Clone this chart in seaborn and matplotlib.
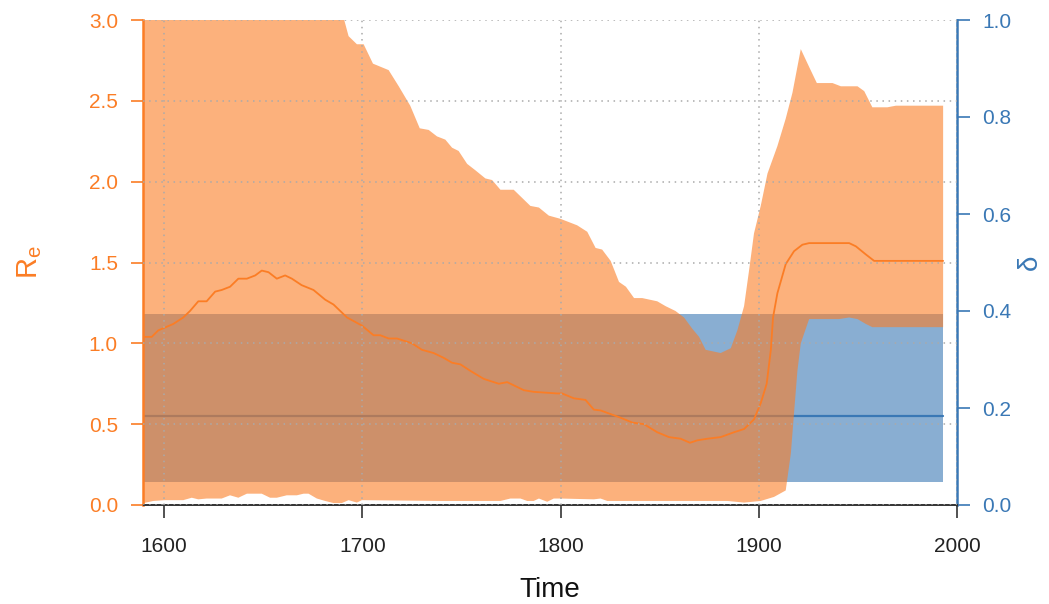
import numpy as np
import pandas as pd
import matplotlib
matplotlib.use("Agg")
import matplotlib.pyplot as plt
import seaborn as sns

# ---------------- data ----------------
re_upper_years = [1589, 1690.9, 1693.1, 1697.3, 1700.7, 1705.4, 1713.3, 1718.4, 1724.2, 1729, 1733.5,
                  1737.7, 1741.9, 1745.3, 1748.6, 1752.9, 1757.1, 1762.1, 1765.5, 1769.7, 1776.4,
                  1784.8, 1789.1, 1794.1, 1800, 1808.4, 1813.5, 1817.7, 1821, 1825.3, 1829.5, 1833,
                  1837.1, 1841.2, 1848.8, 1853, 1858, 1862.3, 1866.5, 1869.9, 1873.2, 1880.8, 1885.9,
                  1889.2, 1892.6, 1895.1, 1897.6, 1901, 1904.4, 1909.4, 1913.6, 1917, 1921.2, 1925.4,
                  1929.3, 1937.2, 1941.4, 1949.8, 1953.2, 1957.3, 1964.9, 1969.2, 1993]
re_upper = [3.0, 3.0, 2.90, 2.85, 2.85, 2.73, 2.69, 2.59, 2.47, 2.33, 2.32,
            2.28, 2.26, 2.21, 2.19, 2.11, 2.07, 2.02, 2.01, 1.95, 1.95,
            1.85, 1.84, 1.79, 1.77, 1.73, 1.69, 1.59, 1.58, 1.51, 1.38, 1.35,
            1.28, 1.28, 1.26, 1.23, 1.20, 1.16, 1.09, 1.04, 0.96, 0.94, 0.97,
            1.08, 1.23, 1.45, 1.68, 1.85, 2.05, 2.22, 2.39, 2.55, 2.82, 2.71,
            2.61, 2.61, 2.59, 2.59, 2.56, 2.46, 2.46, 2.47, 2.47]

re_lower_years = [1589, 1594.6, 1600.5, 1609.7, 1614, 1617.3, 1621.5, 1629.1, 1633.3, 1637.5, 1641.8,
                  1649.3, 1653.5, 1656.9, 1661.9, 1667, 1670.4, 1672.9, 1677.1, 1681.3, 1685.5,
                  1689.7, 1693.1, 1697.3, 1699.8, 1739.4, 1769.7, 1774.7, 1779.8, 1783.2, 1786.5,
                  1789.1, 1793.3, 1796.6, 1800, 1816.8, 1820.2, 1823.6, 1857.2, 1884.2, 1892.6,
                  1901, 1907.7, 1913.6, 1916.2, 1917.8, 1919.5, 1921.2, 1925.4, 1940.5, 1945.6,
                  1949.8, 1954, 1957.3, 1993]
re_lower = [0.01, 0.025, 0.03, 0.03, 0.045, 0.035, 0.04, 0.04, 0.06, 0.045, 0.07,
            0.07, 0.045, 0.045, 0.06, 0.06, 0.07, 0.07, 0.04, 0.025, 0.012,
            0.012, 0.03, 0.015, 0.03, 0.025, 0.025, 0.04, 0.04, 0.025, 0.025,
            0.04, 0.02, 0.04, 0.04, 0.035, 0.04, 0.025, 0.025, 0.025, 0.015,
            0.025, 0.05, 0.09, 0.32, 0.57, 0.83, 1.00, 1.15, 1.15, 1.16,
            1.15, 1.12, 1.10, 1.10]

re_median_years = [1589.5, 1593.8, 1597.1, 1604.7, 1609.7, 1613.1, 1617.3, 1621.5, 1625.8, 1629.1,
                   1633.3, 1637.5, 1641.8, 1646, 1649.3, 1652.7, 1656.9, 1661.1, 1664.5, 1669.4,
                   1675.4, 1681.3, 1685.5, 1692.3, 1699.8, 1705.7, 1709.1, 1713.3, 1717.5, 1725.1,
                   1730.1, 1736, 1741.1, 1745.3, 1749.5, 1754.5, 1761.3, 1768.9, 1773.1, 1781.5,
                   1786.5, 1798.3, 1800.8, 1806.7, 1812.6, 1816.8, 1820.2, 1830.3, 1836.2, 1842.1,
                   1848.8, 1854.7, 1860.6, 1865.3, 1869, 1874.1, 1880.8, 1887.5, 1892.6, 1897.6,
                   1901, 1904, 1906.1, 1907.2, 1909.4, 1913.6, 1917.8, 1922, 1925.4, 1945.6,
                   1949, 1954, 1958.2, 1993]
re_median = [1.04, 1.04, 1.08, 1.12, 1.16, 1.20, 1.26, 1.26, 1.32, 1.33,
             1.35, 1.40, 1.40, 1.42, 1.45, 1.44, 1.40, 1.42, 1.40, 1.36,
             1.33, 1.27, 1.24, 1.16, 1.11, 1.05, 1.05, 1.03, 1.03, 1.00,
             0.96, 0.94, 0.91, 0.88, 0.87, 0.83, 0.78, 0.75, 0.76, 0.71,
             0.70, 0.69, 0.69, 0.66, 0.65, 0.59, 0.585, 0.54, 0.51, 0.50,
             0.45, 0.42, 0.41, 0.385, 0.40, 0.41, 0.42, 0.45, 0.47, 0.53,
             0.63, 0.75, 0.96, 1.16, 1.31, 1.49, 1.57, 1.61, 1.62, 1.62,
             1.60, 1.55, 1.51, 1.51]

delta_years = [1589, 1993]
delta_lower = [0.047, 0.047]
delta_upper = [0.394, 0.394]
delta_median = [0.183, 0.183]

x_ticks = [1600, 1700, 1800, 1900, 2000]
re_ticks = [0.0, 0.5, 1.0, 1.5, 2.0, 2.5, 3.0]
delta_ticks = [0.0, 0.2, 0.4, 0.6, 0.8, 1.0]

# ---------------- style ----------------
sns.set_style("white")
plt.rcParams['font.family'] = ['Liberation Sans', 'DejaVu Sans']
plt.rcParams['mathtext.fontset'] = 'custom'
plt.rcParams['mathtext.rm'] = 'Liberation Sans'
plt.rcParams['mathtext.it'] = 'Liberation Sans'

ORANGE = '#FB7D25'
BLUE = '#3A78B5'
AXGREY = '#333333'

fig = plt.figure(figsize=(10.49, 6.04), dpi=100)
ax = fig.add_axes([143/1049, 1 - 505/604, (957-143)/1049, (505-20)/604])
ax2 = ax.twinx()
ax.set_zorder(ax2.get_zorder() + 1)
ax.patch.set_visible(False)

# delta band (right axis, drawn underneath)
ax2.fill_between(delta_years, delta_lower, delta_upper, color=BLUE, alpha=0.6, linewidth=0)
sns.lineplot(x=delta_years, y=delta_median, ax=ax2, color=BLUE, linewidth=1.6, estimator=None)

# Re band (left axis, on top)
poly_x = list(re_upper_years) + list(re_lower_years[::-1])
poly_y = list(re_upper) + list(re_lower[::-1])
ax.fill(poly_x, poly_y, color=ORANGE, alpha=0.6, linewidth=0)
sns.lineplot(x=re_median_years, y=re_median, ax=ax, color=ORANGE, linewidth=1.3, estimator=None)

# limits
ax.set_xlim(1589.4, 2000)
ax.set_ylim(0, 3)
ax2.set_ylim(0, 1)

# grid on top
ax.set_axisbelow(False)
ax.grid(True, which='major', color='#AAAAAA', linestyle=(0, (1, 3)), linewidth=1.1)

# ticks
ax.set_xticks(x_ticks)
ax.set_xticklabels([str(t) for t in x_ticks])
ax.set_yticks(re_ticks)
ax.set_yticklabels([f"{t:.1f}" for t in re_ticks])
ax2.set_yticks(delta_ticks)
ax2.set_yticklabels([f"{t:.1f}" for t in delta_ticks])

ax.tick_params(axis='x', direction='out', length=9, width=1.2, color=AXGREY,
               labelcolor='#222222', labelsize=15, pad=14, bottom=True)
ax.tick_params(axis='y', direction='out', length=9, width=1.2, color=ORANGE,
               labelcolor=ORANGE, labelsize=15, pad=9, left=True)
ax2.tick_params(axis='y', direction='out', length=9, width=1.2, color=BLUE,
                labelcolor=BLUE, labelsize=15, pad=9, right=True)

# spines
for s in ['top', 'right']:
    ax.spines[s].set_visible(False)
ax.spines['left'].set_color(ORANGE)
ax.spines['left'].set_linewidth(1.8)
ax.spines['bottom'].set_color(AXGREY)
ax.spines['bottom'].set_linewidth(1.4)
for s in ['top', 'left', 'bottom']:
    ax2.spines[s].set_visible(False)
ax2.spines['right'].set_color(BLUE)
ax2.spines['right'].set_linewidth(1.8)

# labels
ax.set_xlabel("Time", fontsize=20, color='#111111', labelpad=15)
ax.set_ylabel(r"$\mathregular{R_e}$", fontsize=21, color=ORANGE, labelpad=32)
ax2.set_ylabel("")
fig.text(1030/1049, 1 - 262/604, "δ", fontsize=20, color=BLUE, rotation=90,
         ha='center', va='center')

fig.savefig("out.png", dpi=100)
